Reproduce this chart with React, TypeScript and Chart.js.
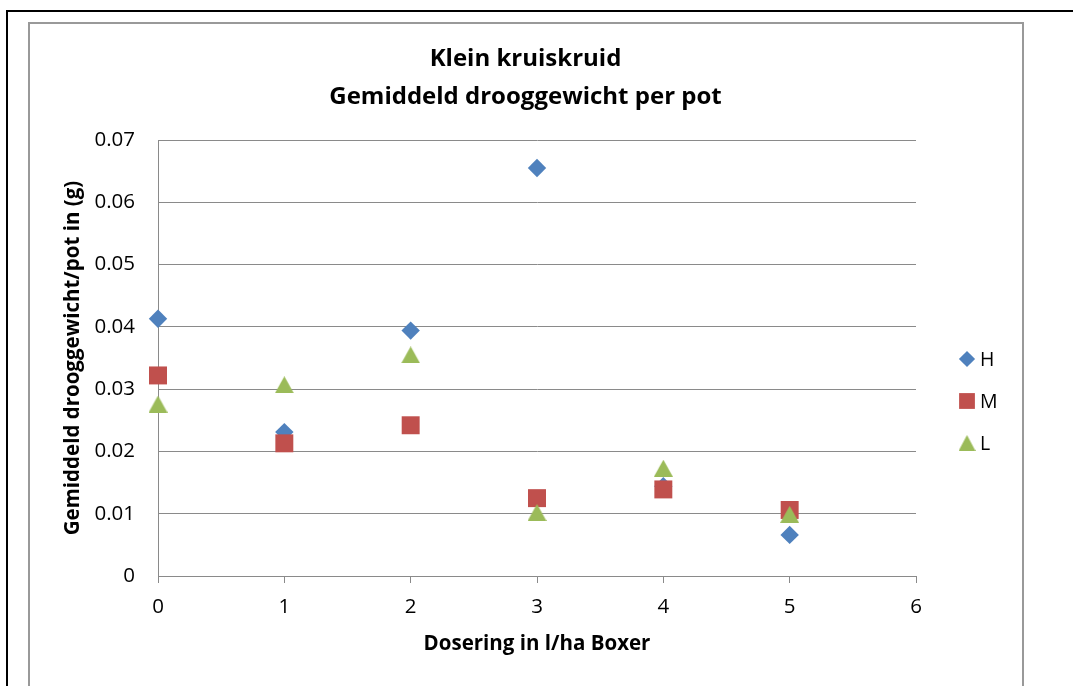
import React, { useEffect, useRef } from 'react';
import { Chart, registerables } from 'chart.js';
import { drawPoint } from 'chart.js/helpers';

Chart.register(...registerables);

const doses = [0, 1, 2, 3, 4, 5];
const valuesH = [0.0413, 0.0231, 0.0394, 0.0655, 0.0144, 0.0066];
const valuesM = [0.0322, 0.0213, 0.0242, 0.0125, 0.0139, 0.0106];
const valuesL = [0.0276, 0.0307, 0.0355, 0.0102, 0.0173, 0.0099];
const seriesLabels = ['H', 'M', 'L'];
const seriesColors = ['#4F81BD', '#C0504D', '#9BBB59'];
const xTickLabels = ['0', '1', '2', '3', '4', '5', '6'];
const yTickLabels = ['0', '0.01', '0.02', '0.03', '0.04', '0.05', '0.06', '0.07'];
const chartTitle = ['Klein kruiskruid', 'Gemiddeld drooggewicht per pot'];
const xAxisTitle = 'Dosering in l/ha Boxer';
const yAxisTitle = 'Gemiddeld drooggewicht/pot in (g)';

const FONT = "'Open Sans', sans-serif";
const GRID = '#8a8a8a';

// Excel-style triangle marker: bounding box centred on the data point
function triangleMarker(color: string, w: number, h: number) {
  const c = document.createElement('canvas');
  c.width = w;
  c.height = h;
  const g = c.getContext('2d') as CanvasRenderingContext2D;
  g.fillStyle = color;
  g.beginPath();
  g.moveTo(w / 2, 0);
  g.lineTo(w, h);
  g.lineTo(0, h);
  g.closePath();
  g.fill();
  return c;
}

const sideLegend = {
  id: 'sideLegend',
  afterDraw(chart: any) {
    const { ctx, chartArea } = chart;
    const x = chartArea.right + 51;
    const midY = (chartArea.top + chartArea.bottom) / 2 + 43;
    const gap = 42;
    chart.data.datasets.forEach((ds: any, i: number) => {
      const y = midY + (i - 1) * gap;
      ctx.save();
      ctx.fillStyle = ds.backgroundColor;
      ctx.strokeStyle = ds.backgroundColor;
      const style = ds.legendStyle || ds.pointStyle;
      drawPoint(ctx, { pointStyle: style, radius: ds.pointRadius * 0.88, rotation: 0, borderWidth: 0 }, x, y);
      ctx.fillStyle = '#000';
      ctx.font = `19.5px ${FONT}`;
      ctx.textBaseline = 'middle';
      ctx.textAlign = 'left';
      ctx.fillText(ds.label, x + 13, y + 1);
      ctx.restore();
    });
  },
};

export default function App() {
  const ref = useRef<HTMLCanvasElement>(null);
  useEffect(() => {
    const seriesValues = [valuesH, valuesM, valuesL];
    const tri = triangleMarker(seriesColors[2], 19, 17);
    const triSmall = triangleMarker(seriesColors[2], 17, 16);
    const styles: any[] = ['rectRot', 'rect', tri];
    const legendStyles: any[] = ['rectRot', 'rect', triSmall];
    const radii = [9.2, 12.7, 10.5];
    const chart = new Chart(ref.current as HTMLCanvasElement, {
      type: 'scatter',
      data: {
        datasets: seriesValues.map((vals, i) => ({
          label: seriesLabels[i],
          data: doses.map((x, j) => ({ x, y: vals[j] })),
          pointStyle: styles[i],
          legendStyle: legendStyles[i],
          pointRadius: radii[i],
          pointHoverRadius: radii[i],
          backgroundColor: seriesColors[i],
          borderColor: seriesColors[i],
          pointBorderWidth: 0,
          clip: false,
          order: 3 - i,
        })),
      } as any,
      plugins: [sideLegend],
      options: {
        responsive: false,
        animation: false,
        devicePixelRatio: 1,
        layout: { padding: 0 },
        plugins: {
          legend: { display: false },
          tooltip: { enabled: false },
          title: {
            display: true,
            text: chartTitle,
            color: '#000',
            font: { family: FONT, size: 24, weight: 'bold', lineHeight: 38 / 24 },
            padding: { top: 18, bottom: 24 },
          },
        },
        scales: {
          x: {
            type: 'linear',
            position: 'bottom',
            min: 0,
            max: 6,
            ticks: {
              stepSize: 1,
              padding: 12,
              color: '#000',
              font: { family: FONT, size: 20.5 },
              callback: (_v: any, i: number) => xTickLabels[i],
            },
            grid: { drawOnChartArea: false, drawTicks: true, tickLength: 7, color: GRID, lineWidth: 1 },
            border: { display: true, color: GRID, width: 1 },
            title: {
              display: true,
              text: xAxisTitle,
              color: '#000',
              font: { family: FONT, size: 20.5, weight: 'bold', lineHeight: 1.2 },
              padding: { top: 0, bottom: 29.7 },
            },
            afterFit: (s: any) => { s.height = 110; },
          },
          y: {
            type: 'linear',
            position: 'left',
            min: 0,
            max: 0.07,
            ticks: {
              stepSize: 0.01,
              padding: 23,
              color: '#000',
              font: { family: FONT, size: 20.5 },
              callback: (_v: any, i: number) => yTickLabels[i],
            },
            grid: { drawTicks: false, color: GRID, lineWidth: 1 },
            border: { display: true, color: GRID, width: 1 },
            title: {
              display: true,
              text: yAxisTitle,
              color: '#000',
              font: { family: FONT, size: 20.5, weight: 'bold', lineHeight: 1.2 },
              padding: { top: 32.7, bottom: 0 },
            },
            afterFit: (s: any) => { s.width = 130; },
          },
          legendSpace: {
            type: 'linear',
            axis: 'y',
            position: 'right',
            display: true,
            ticks: { display: false },
            grid: { display: false },
            border: { display: false },
            afterFit: (s: any) => { s.width = 107; },
          },
        },
      } as any,
    });
    return () => chart.destroy();
  }, []);

  return (
    <div style={{ position: 'fixed', left: 0, top: 0, width: 1073, height: 686, overflow: 'hidden', background: '#fff' }}>
      <div style={{ position: 'absolute', left: 6, top: 10, width: 2000, height: 2000, borderLeft: '2px solid #000', borderTop: '2px solid #000' }} />
      <div style={{ position: 'absolute', left: 28, top: 22, width: 996, height: 1000, boxSizing: 'border-box', border: '2px solid #999' }} />
      <canvas ref={ref} width={995} height={664} style={{ position: 'absolute', left: 28, top: 22, width: 995, height: 664 }} />
    </div>
  );
}
